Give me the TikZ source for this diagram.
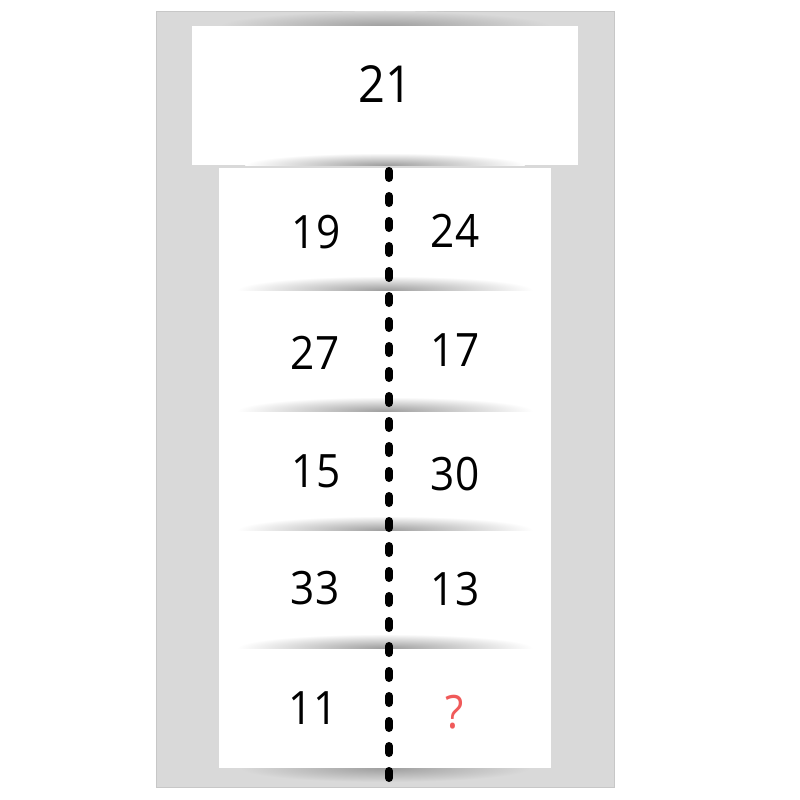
\documentclass[tikz,border=0pt]{standalone}
\usepackage{fontspec}
\setmainfont[FakeStretch=0.92]{Open Sans}
\definecolor{bggray}{HTML}{D9D9D9}
\definecolor{qred}{HTML}{F05A5A}
\tikzset{
  bgpanel/.style={fill=bggray, draw=black!22, line width=0.8pt, inner sep=0, outer sep=0},
  whitepanel/.style={fill=white, draw=none, inner sep=0, outer sep=0},
  num/.style={inner sep=0, font=\fontsize{46}{50}\selectfont, text=black},
  bignum/.style={inner sep=0, font=\fontsize{51}{55}\selectfont, text=black},
  divider/.style={line width=8pt, line cap=round, dash pattern=on 7pt off 18pt, black},
}
% #1 centre x, #2 edge y, #3 half width, #4 signed depth, #5 outer colour
\newcommand\myshadow[5]{%
  \begin{scope}
    \clip (#1-#3,#2) rectangle (#1+#3,#2+#4);
    \shade[inner color=black!38, outer color=#5] (#1,#2) ellipse [x radius=#3, y radius={abs(#4)}];
  \end{scope}}
\begin{document}
\begin{tikzpicture}[x=1pt,y=-1pt]
  \useasboundingbox[fill=white] (0,0) rectangle (800,800);
  \node[bgpanel, minimum width=458, minimum height=776] (bg) at (385,399) {};
  \myshadow{385}{26}{165}{-15}{bggray}
  \node[whitepanel, minimum width=386, minimum height=139] (topbox) at (385,95.5) {};
  \myshadow{385}{165}{140}{-12}{white}
  \node[whitepanel, minimum width=332, minimum height=600] (rows) at (385,468) {};
  \myshadow{385}{290}{148}{-14}{white}
  \myshadow{385}{411}{148}{-14}{white}
  \myshadow{385}{530}{148}{-14}{white}
  \myshadow{385}{648}{148}{-14}{white}
  \myshadow{385}{768}{145}{14}{bggray}
  \coordinate (dtop) at (389,171);
  \coordinate (dbot) at (389,790);
  \draw[divider] (dtop) -- (dbot);
  \node[bignum] (n21) at (385,84) {21};
  \node[num] (n19) at (316,232) {19};
  \node[num] (n24) at (455,231) {24};
  \node[num] (n27) at (315,353) {27};
  \node[num] (n17) at (455,350) {17};
  \node[num] (n15) at (316,471) {15};
  \node[num] (n30) at (455,474) {30};
  \node[num] (n33) at (315,588) {33};
  \node[num] (n13) at (455,589) {13};
  \node[num] (n11) at (313,708) {11};
  \node[num, text=qred] (nq) at (455,712) {?};
\end{tikzpicture}
\end{document}
